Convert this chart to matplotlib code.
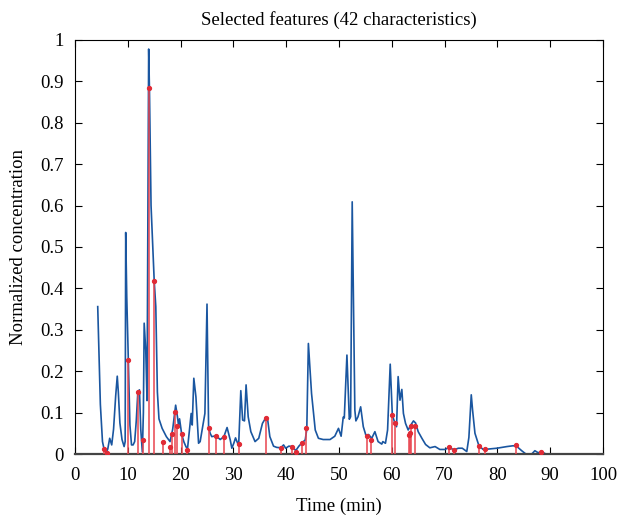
import matplotlib
matplotlib.use('Agg')
import matplotlib.pyplot as plt
import numpy as np

# chromatogram trace (time in min, normalized concentration)
trace_t = [4.3, 4.8, 5.2, 5.5, 5.9, 6.2, 6.57, 6.95, 7.3, 7.7, 8.0, 8.2, 8.5, 8.9, 9.3, 9.5,
           9.6, 9.8, 10.1, 10.4, 10.7, 11.0, 11.3, 11.6, 11.9, 12.2, 12.45, 12.75, 12.95, 13.1,
           13.4, 13.64, 13.95, 14.1, 14.4, 15.0, 15.3, 15.6, 15.9, 16.5, 17.3, 18.0, 18.5, 19.06,
           19.4, 19.6, 19.8, 20.2, 20.6, 21.0, 21.3, 21.7, 22.0, 22.2, 22.5, 22.9, 23.4, 23.7,
           24.1, 24.6, 25.0, 25.3, 25.6, 25.9, 26.7, 27.5, 28.2, 28.8, 29.4, 29.7, 30.1, 30.4,
           30.8, 31.0, 31.4, 31.75, 32.1, 32.4, 32.8, 33.3, 34.1, 34.8, 35.5, 36.1, 36.5, 36.9,
           37.6, 38.2, 39.0, 39.5, 39.9, 40.5, 41.2, 41.8, 42.4, 43.0, 43.6, 43.9, 44.2, 44.8,
           45.5, 46.1, 47.0, 48.3, 49.2, 49.9, 50.4, 50.8, 51.0, 51.5, 51.95, 52.2, 52.5, 53.0,
           53.2, 53.6, 54.1, 54.6, 55.1, 55.6, 56.2, 56.8, 57.4, 58.1, 58.3, 58.8, 59.2, 59.7,
           60.1, 60.6, 60.9, 61.2, 61.55, 61.9, 62.2, 62.6, 63.1, 63.6, 64.1, 64.5, 65.0, 65.7,
           66.4, 67.2, 68.2, 69.1, 70.1, 70.8, 71.8, 72.6, 73.35, 74.2, 74.6, 75.05, 75.3, 75.75,
           76.5, 77.3, 78.3, 79.9, 81.8, 83.0, 83.7, 84.6, 85.4, 86.5, 87.1, 87.6, 88.0, 88.4, 88.9]
trace_y = [0.356, 0.12, 0.03, 0.012, 0.004, 0.012, 0.038, 0.022, 0.06, 0.14, 0.188, 0.15, 0.075, 0.035, 0.018, 0.03,
           0.535, 0.38, 0.227, 0.07, 0.022, 0.022, 0.03, 0.08, 0.15, 0.155, 0.06, 0.005, 0.1, 0.316,
           0.25, 0.129, 0.978, 0.88, 0.6, 0.418, 0.356, 0.15, 0.085, 0.062, 0.042, 0.03, 0.06, 0.118,
           0.09, 0.07, 0.085, 0.048, 0.03, 0.018, 0.012, 0.06, 0.098, 0.07, 0.183, 0.138, 0.026, 0.03,
           0.06, 0.098, 0.362, 0.064, 0.05, 0.042, 0.044, 0.035, 0.042, 0.064, 0.034, 0.014, 0.027, 0.039,
           0.026, 0.023, 0.153, 0.082, 0.08, 0.167, 0.09, 0.054, 0.03, 0.038, 0.074, 0.087, 0.082, 0.042,
           0.019, 0.016, 0.015, 0.022, 0.014, 0.019, 0.018, 0.008, 0.019, 0.027, 0.034, 0.06, 0.267, 0.146,
           0.058, 0.038, 0.035, 0.035, 0.043, 0.062, 0.043, 0.089, 0.087, 0.239, 0.084, 0.09, 0.609, 0.106,
           0.08, 0.09, 0.114, 0.066, 0.045, 0.047, 0.038, 0.054, 0.03, 0.024, 0.03, 0.026, 0.058, 0.217,
           0.094, 0.074, 0.066, 0.187, 0.13, 0.156, 0.098, 0.074, 0.058, 0.07, 0.08, 0.075, 0.054, 0.038,
           0.023, 0.015, 0.018, 0.011, 0.011, 0.016, 0.01, 0.014, 0.014, 0.006, 0.04, 0.143, 0.106, 0.05,
           0.02, 0.011, 0.012, 0.014, 0.018, 0.02, 0.018, 0.008, 0.0, 0.0, 0.008, 0.004, 0.003, 0.004, 0.002]

# selected features
feat_t = [5.5, 6.1, 10.1, 11.9, 12.9, 14.1, 15.0, 16.7, 17.9, 18.4, 18.9, 19.4, 20.2, 21.3,
          25.3, 26.7, 28.2, 31.1, 36.1, 39.0, 41.1, 41.9, 43.0, 43.75, 55.3, 56.0,
          60.1, 60.6, 63.3, 63.5, 63.6, 64.4, 70.8, 71.8, 76.5, 77.6, 83.5, 88.3]
feat_y = [0.011, 0.003, 0.227, 0.15, 0.035, 0.883, 0.418, 0.03, 0.016, 0.048, 0.102, 0.068, 0.048, 0.01,
          0.064, 0.044, 0.042, 0.023, 0.086, 0.015, 0.018, 0.006, 0.027, 0.062, 0.044, 0.035,
          0.094, 0.074, 0.047, 0.051, 0.068, 0.068, 0.016, 0.009, 0.02, 0.012, 0.022, 0.004]

plt.rcParams['font.family'] = ['Liberation Serif', 'DejaVu Serif']

fig = plt.figure(figsize=(6.21, 5.19), dpi=100)
ax = fig.add_axes([0.1208, 0.1252, 0.8502, 0.7978])

ax.plot(trace_t, trace_y, color='#1a56a0', lw=1.2, zorder=2)
ax.vlines(feat_t, 0, feat_y, color='#e8454f', lw=1.3, alpha=0.85, zorder=3)
ax.plot(feat_t, feat_y, 'o', color='#e02b36', ms=2.8, zorder=4)

ax.set_xlim(0, 100)
ax.set_ylim(0, 1)
ax.set_xticks(np.arange(0, 101, 10))
ax.set_yticks(np.arange(0, 1.01, 0.1))
ax.set_yticklabels(['0', '0.1', '0.2', '0.3', '0.4', '0.5', '0.6', '0.7', '0.8', '0.9', '1'])
ax.tick_params(direction='in', top=True, right=True, labelsize=13.5, length=5, width=0.8)
ax.tick_params(axis='x', pad=9)
ax.tick_params(axis='y', pad=8)
for s in ax.spines.values():
    s.set_linewidth(0.8)
ax.spines['bottom'].set_linewidth(1.6)
ax.spines['bottom'].set_color('#444444')

ax.set_xlabel('Time (min)', fontsize=13.5, labelpad=10)
ax.set_ylabel('Normalized concentration', fontsize=13.5, labelpad=10)
ax.set_title('Selected features (42 characteristics)', fontsize=13.5, pad=11)

fig.savefig('out.png', dpi=100)
